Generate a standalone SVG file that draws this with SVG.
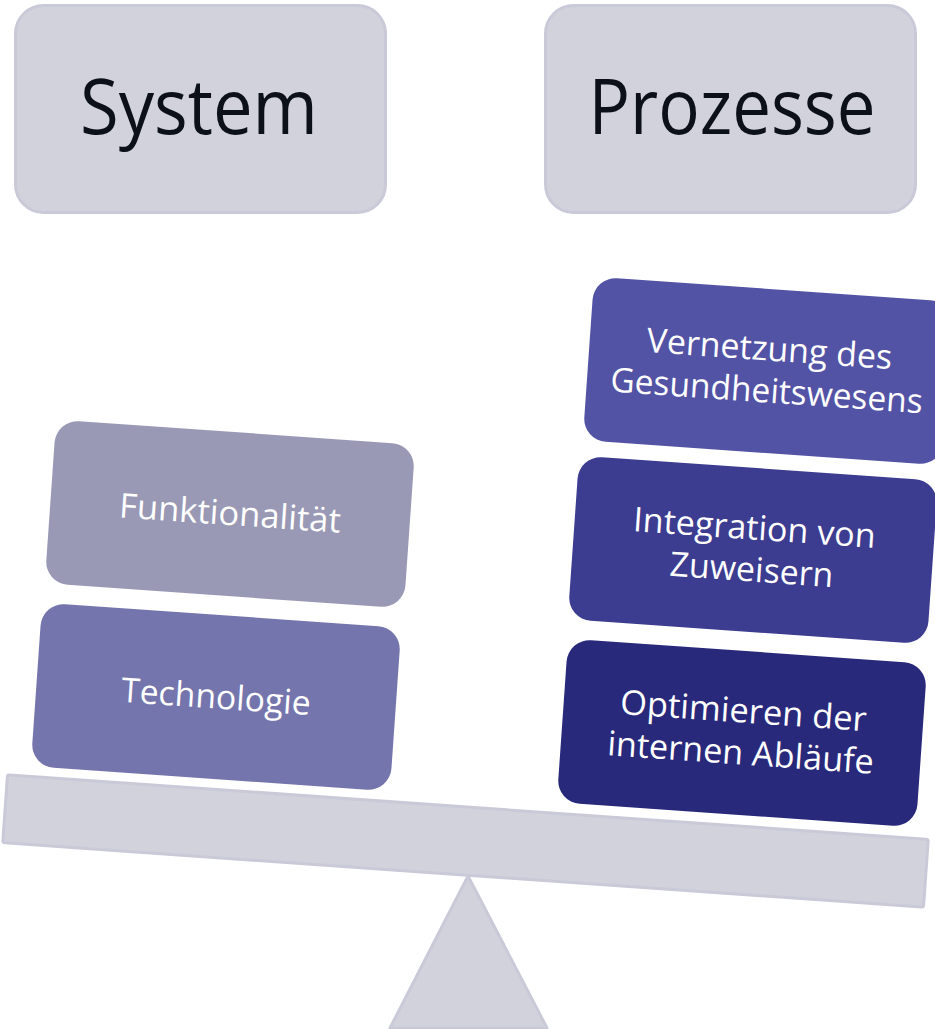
<svg xmlns="http://www.w3.org/2000/svg" width="935" height="1029" viewBox="0 0 935 1029">
<style>
.top{fill:#d2d2dd;stroke:#c9c9d8;stroke-width:3}
.ttl{font-family:"Open Sans","Liberation Sans",sans-serif;font-size:77px;fill:#0c1018;text-anchor:middle}
.lbl{font-family:"Open Sans","Liberation Sans",sans-serif;font-size:34px;fill:#ffffff;text-anchor:middle}
.scale{fill:#d2d2dd;stroke:#c9c9d8;stroke-width:3;stroke-linejoin:round}
</style>
<g id="connectors"/>
<g id="fulcrum">
<polygon class="scale" points="468,876 390,1028 547,1028"/>
</g>
<g id="beam" transform="translate(465.5,841) rotate(4)">
<rect class="scale" x="-461.5" y="-34" width="923" height="68" rx="2"/>
</g>
<g id="system">
<rect class="top" x="15.5" y="5.5" width="370" height="207" rx="28"/>
<text class="ttl" x="199" y="134" textLength="238" lengthAdjust="spacingAndGlyphs">System</text>
</g>
<g id="prozesse">
<rect class="top" x="545.5" y="5.5" width="370" height="207" rx="28"/>
<text class="ttl" x="732" y="134" textLength="287" lengthAdjust="spacingAndGlyphs">Prozesse</text>
</g>
<g id="funktionalitaet" transform="translate(230,514) rotate(4)">
<rect x="-180" y="-82" width="360" height="164" rx="23" fill="#9999b5"/>
<text class="lbl" x="0" y="11" textLength="222" lengthAdjust="spacingAndGlyphs">Funktionalität</text>
</g>
<g id="technologie" transform="translate(216,697) rotate(4)">
<rect x="-180" y="-82" width="360" height="164" rx="23" fill="#7575ad"/>
<text class="lbl" x="0" y="11.5" textLength="190" lengthAdjust="spacingAndGlyphs">Technologie</text>
</g>
<g id="vernetzung" transform="translate(768,371) rotate(4)">
<rect x="-180" y="-82" width="360" height="164" rx="23" fill="#5353a6"/>
<text class="lbl" x="0" y="-10.5" textLength="246" lengthAdjust="spacingAndGlyphs">Vernetzung des</text>
<text class="lbl" x="0" y="31.5" textLength="313" lengthAdjust="spacingAndGlyphs">Gesundheitswesens</text>
</g>
<g id="integration" transform="translate(753,550) rotate(4)">
<rect x="-180" y="-82" width="360" height="164" rx="23" fill="#3c3c91"/>
<text class="lbl" x="0" y="-10.5" textLength="243" lengthAdjust="spacingAndGlyphs">Integration von</text>
<text class="lbl" x="0" y="31.5" textLength="164" lengthAdjust="spacingAndGlyphs">Zuweisern</text>
</g>
<g id="optimieren" transform="translate(742,733) rotate(4)">
<rect x="-180" y="-82" width="360" height="164" rx="23" fill="#29297b"/>
<text class="lbl" x="0" y="-10.5" textLength="247" lengthAdjust="spacingAndGlyphs">Optimieren der</text>
<text class="lbl" x="0" y="31.5" textLength="267" lengthAdjust="spacingAndGlyphs">internen Abläufe</text>
</g>
</svg>
